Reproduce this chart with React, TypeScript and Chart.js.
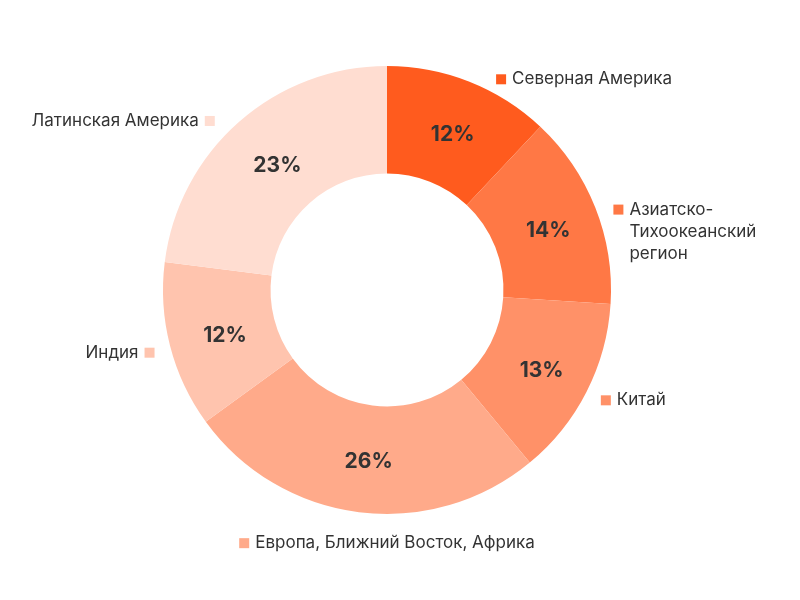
import React, { useEffect, useRef } from "react";
import { Chart, registerables } from "chart.js";

Chart.register(...registerables);

const categories = [
  "Северная Америка",
  "Азиатско-Тихоокеанский регион",
  "Китай",
  "Европа, Ближний Восток, Африка",
  "Индия",
  "Латинская Америка",
];
const shares = [12, 14, 13, 26, 12, 23];
const sliceColors = ["#FF5B1E", "#FF7845", "#FF9168", "#FFAA8A", "#FFC4AE", "#FFDDD1"];

const FONT = "Inter, 'Noto Sans', sans-serif";
const TEXT_COLOR = "#333333";

function wrapWords(ctx: CanvasRenderingContext2D, text: string, maxW: number): string[] {
  const tokens: string[] = [];
  text.split(" ").forEach((w, i, arr) => {
    const parts = w.split(/(?<=-)/);
    parts.forEach((p, j) => {
      const last = j === parts.length - 1;
      tokens.push(p + (last && i < arr.length - 1 ? " " : ""));
    });
  });
  const lines: string[] = [];
  let cur = "";
  for (const t of tokens) {
    const trial = cur + t;
    if (cur && ctx.measureText(trial.trimEnd()).width > maxW) {
      lines.push(cur.trimEnd());
      cur = t;
    } else cur = trial;
  }
  if (cur) lines.push(cur.trimEnd());
  return lines;
}

const labelPlugin = {
  id: "sliceLabels",
  afterDatasetsDraw(chart: any) {
    const ctx: CanvasRenderingContext2D = chart.ctx;
    const meta = chart.getDatasetMeta(0);
    const total = shares.reduce((a, b) => a + b, 0);
    meta.data.forEach((arc: any, i: number) => {
      const { x, y, startAngle, endAngle, innerRadius, outerRadius } = arc.getProps(
        ["x", "y", "startAngle", "endAngle", "innerRadius", "outerRadius"],
        true
      );
      const mid = (startAngle + endAngle) / 2;
      const cos = Math.cos(mid);
      const sin = Math.sin(mid);
      // percentage inside
      const rm = (innerRadius + outerRadius) / 2;
      ctx.save();
      ctx.font = `bold 21px ${FONT}`;
      ctx.fillStyle = TEXT_COLOR;
      ctx.textAlign = "center";
      ctx.textBaseline = "middle";
      ctx.fillText(
        Math.round((shares[i] / total) * 100) + "%",
        x + cos * rm + 3,
        y + sin * rm + 3
      );

      // outer label: horizontal radius a bit wider, pushed out more near the top
      const up = Math.max(0, -sin);
      const ax = x + cos * (outerRadius + 16) + Math.sign(cos) * 24 * up * up;
      const ay = y + sin * (outerRadius + 8);
      ctx.font = `17px ${FONT}`;
      const box = 10;
      const gap = 6;
      const lh = 22;
      ctx.textBaseline = "middle";
      if (Math.abs(cos) < 0.3) {
        // bottom / top: centered on the chart's axis
        const tw = ctx.measureText(categories[i]).width;
        const w = box + gap + tw;
        const left = x - w / 2;
        const ty = ay + (sin > 0 ? 1 : -1) * (lh / 2 + 12);
        ctx.fillStyle = sliceColors[i];
        ctx.fillRect(left, ty - box / 2, box, box);
        ctx.fillStyle = TEXT_COLOR;
        ctx.textAlign = "left";
        ctx.fillText(categories[i], left + box + gap, ty);
      } else if (cos > 0) {
        const tx = ax + box + gap;
        const lines = wrapWords(ctx, categories[i], chart.width - tx - 12);
        const top = ay + 5;
        ctx.fillStyle = sliceColors[i];
        ctx.fillRect(ax, top - box / 2, box, box);
        ctx.fillStyle = TEXT_COLOR;
        ctx.textAlign = "left";
        lines.forEach((l, k) => ctx.fillText(l, tx, top + k * lh));
      } else {
        const tx = ax - box - gap;
        const lines = wrapWords(ctx, categories[i], tx - 12);
        const top = ay + 5;
        ctx.fillStyle = sliceColors[i];
        ctx.fillRect(ax - box, top - box / 2, box, box);
        ctx.fillStyle = TEXT_COLOR;
        ctx.textAlign = "right";
        lines.forEach((l, k) => ctx.fillText(l, tx, top + k * lh));
      }
      ctx.restore();
    });
  },
};

export default function App() {
  const ref = useRef<HTMLCanvasElement | null>(null);
  useEffect(() => {
    document.body.style.margin = "0";
    const chart = new Chart(ref.current!, {
      type: "doughnut",
      data: {
        labels: categories,
        datasets: [
          {
            data: shares,
            backgroundColor: sliceColors,
            borderWidth: 0,
            hoverOffset: 0,
          },
        ],
      },
      options: {
        responsive: false,
        animation: false,
        cutout: "52%",
        layout: { padding: { top: 66, bottom: 86, left: 100, right: 126 } },
        plugins: {
          legend: { display: false },
          tooltip: { enabled: false },
        },
      },
      plugins: [labelPlugin],
    });
    return () => chart.destroy();
  }, []);
  return (
    <div style={{ width: 800, height: 600, background: "#fff" }}>
      <canvas ref={ref} width={800} height={600} style={{ display: "block" }} />
    </div>
  );
}
